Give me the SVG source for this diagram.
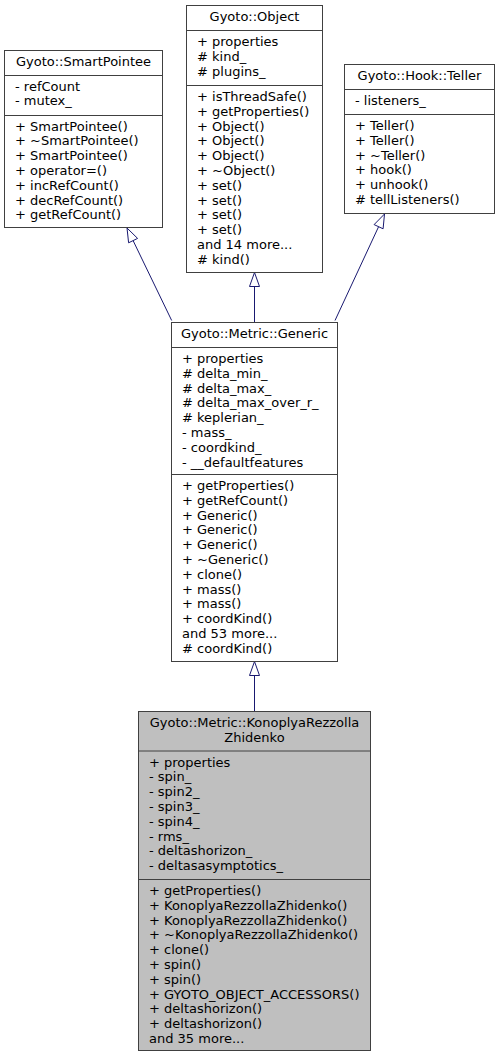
<svg xmlns="http://www.w3.org/2000/svg" width="499" height="1057" viewBox="0 0 499 1057">
<style>
text{font-family:"DejaVu Sans","Liberation Sans",sans-serif;font-size:13px;fill:#000}
.t{text-anchor:middle}
.box{fill:#fff;stroke:#404040;stroke-width:1}
.sel{fill:#bfbfbf;stroke:#404040;stroke-width:1}
.sep{stroke:#404040;stroke-width:1}
.edge{stroke:#191970;stroke-width:1;fill:none}
.head{fill:#fff;stroke:#191970;stroke-width:1}
</style>
<rect width="499" height="1057" fill="#fff"/>
<g id="edges">
<path class="edge" d="M254.5,322 L254.5,286.5"/>
<polygon class="head" points="254.5,272.5 259.5,286.5 249.5,286.5"/>
<path class="edge" d="M171.7,320.5 L133.1,240.6"/>
<polygon class="head" points="127,228 137.6,238.4 128.6,242.8"/>
<path class="edge" d="M335,320.5 L378.6,226.7"/>
<polygon class="head" points="384.5,214 383.1,228.8 374.1,224.6"/>
<path class="edge" d="M254.5,711 L254.5,675.5"/>
<polygon class="head" points="254.5,661.5 259.5,675.5 249.5,675.5"/>
</g>
<g id="smartpointee">
<rect class="box" x="4.5" y="50.5" width="158" height="177"/>
<line class="sep" x1="4.5" y1="75.5" x2="162.5" y2="75.5"/>
<line class="sep" x1="4.5" y1="115.5" x2="162.5" y2="115.5"/>
<text class="t" x="83.5" y="66">Gyoto::SmartPointee</text>
<text x="15" y="90.5">- refCount</text>
<text x="15" y="105.3">- mutex_</text>
<text x="15" y="130.5">+ SmartPointee()</text>
<text x="15" y="145.3">+ ~SmartPointee()</text>
<text x="15" y="160.1">+ SmartPointee()</text>
<text x="15" y="174.9">+ operator=()</text>
<text x="15" y="189.7">+ incRefCount()</text>
<text x="15" y="204.5">+ decRefCount()</text>
<text x="15" y="219.3">+ getRefCount()</text>
</g>
<g id="object">
<rect class="box" x="186.5" y="5.5" width="136" height="267"/>
<line class="sep" x1="186.5" y1="30.5" x2="322.5" y2="30.5"/>
<line class="sep" x1="186.5" y1="85.5" x2="322.5" y2="85.5"/>
<text class="t" x="254.5" y="21">Gyoto::Object</text>
<text x="197" y="46">+ properties</text>
<text x="197" y="60.8"># kind_</text>
<text x="197" y="75.6"># plugins_</text>
<text x="197" y="101">+ isThreadSafe()</text>
<text x="197" y="115.8">+ getProperties()</text>
<text x="197" y="130.6">+ Object()</text>
<text x="197" y="145.4">+ Object()</text>
<text x="197" y="160.2">+ Object()</text>
<text x="197" y="175">+ ~Object()</text>
<text x="197" y="189.8">+ set()</text>
<text x="197" y="204.6">+ set()</text>
<text x="197" y="219.4">+ set()</text>
<text x="197" y="234.2">+ set()</text>
<text x="197" y="249">and 14 more...</text>
<text x="197" y="263.8"># kind()</text>
</g>
<g id="teller">
<rect class="box" x="344.5" y="64.5" width="150" height="149"/>
<line class="sep" x1="344.5" y1="89.5" x2="494.5" y2="89.5"/>
<line class="sep" x1="344.5" y1="114.5" x2="494.5" y2="114.5"/>
<text class="t" x="419.5" y="80">Gyoto::Hook::Teller</text>
<text x="355" y="105">- listeners_</text>
<text x="355" y="130">+ Teller()</text>
<text x="355" y="144.8">+ Teller()</text>
<text x="355" y="159.6">+ ~Teller()</text>
<text x="355" y="174.4">+ hook()</text>
<text x="355" y="189.2">+ unhook()</text>
<text x="355" y="204"># tellListeners()</text>
</g>
<g id="generic">
<rect class="box" x="171.5" y="322.5" width="166" height="339"/>
<line class="sep" x1="171.5" y1="347.5" x2="337.5" y2="347.5"/>
<line class="sep" x1="171.5" y1="474.5" x2="337.5" y2="474.5"/>
<text class="t" x="254.5" y="338">Gyoto::Metric::Generic</text>
<text x="182" y="363">+ properties</text>
<text x="182" y="377.8"># delta_min_</text>
<text x="182" y="392.6"># delta_max_</text>
<text x="182" y="407.4"># delta_max_over_r_</text>
<text x="182" y="422.2"># keplerian_</text>
<text x="182" y="437">- mass_</text>
<text x="182" y="451.8">- coordkind_</text>
<text x="182" y="466.6">- __defaultfeatures</text>
<text x="182" y="490">+ getProperties()</text>
<text x="182" y="504.8">+ getRefCount()</text>
<text x="182" y="519.6">+ Generic()</text>
<text x="182" y="534.4">+ Generic()</text>
<text x="182" y="549.2">+ Generic()</text>
<text x="182" y="564">+ ~Generic()</text>
<text x="182" y="578.8">+ clone()</text>
<text x="182" y="593.6">+ mass()</text>
<text x="182" y="608.4">+ mass()</text>
<text x="182" y="623.2">+ coordKind()</text>
<text x="182" y="638">and 53 more...</text>
<text x="182" y="652.8"># coordKind()</text>
</g>
<g id="konoplya">
<rect class="sel" x="138.5" y="711.5" width="232" height="339"/>
<line class="sep" x1="138.5" y1="751" x2="370.5" y2="751"/>
<line class="sep" x1="138.5" y1="879.5" x2="370.5" y2="879.5"/>
<text class="t" x="254.5" y="727">Gyoto::Metric::KonoplyaRezzolla</text>
<text class="t" x="254.5" y="741.8">Zhidenko</text>
<text x="149" y="766.5">+ properties</text>
<text x="149" y="781.3">- spin_</text>
<text x="149" y="796.1">- spin2_</text>
<text x="149" y="810.9">- spin3_</text>
<text x="149" y="825.7">- spin4_</text>
<text x="149" y="840.5">- rms_</text>
<text x="149" y="855.3">- deltashorizon_</text>
<text x="149" y="870.1">- deltasasymptotics_</text>
<text x="149" y="895">+ getProperties()</text>
<text x="149" y="909.8">+ KonoplyaRezzollaZhidenko()</text>
<text x="149" y="924.6">+ KonoplyaRezzollaZhidenko()</text>
<text x="149" y="939.4">+ ~KonoplyaRezzollaZhidenko()</text>
<text x="149" y="954.2">+ clone()</text>
<text x="149" y="969">+ spin()</text>
<text x="149" y="983.8">+ spin()</text>
<text x="149" y="998.6">+ GYOTO_OBJECT_ACCESSORS()</text>
<text x="149" y="1013.4">+ deltashorizon()</text>
<text x="149" y="1028.2">+ deltashorizon()</text>
<text x="149" y="1043">and 35 more...</text>
</g>
</svg>
